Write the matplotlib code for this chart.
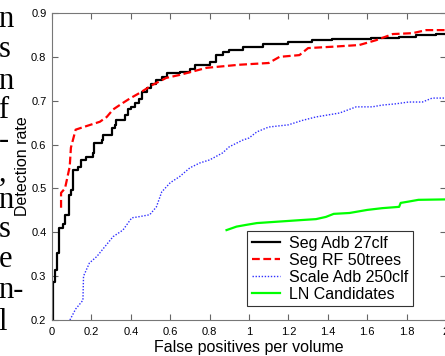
import matplotlib
matplotlib.use("Agg")
import matplotlib.pyplot as plt

# ---- data ----
seg_adb_x = [0.0, 0.005, 0.015, 0.025, 0.035, 0.055, 0.066, 0.086, 0.096, 0.106, 0.13, 0.147,
             0.172, 0.208, 0.213, 0.253, 0.258, 0.304, 0.319, 0.324, 0.37, 0.385, 0.40, 0.42,
             0.44, 0.455, 0.48, 0.50, 0.53, 0.56, 0.585, 0.65, 0.70, 0.725, 0.80, 0.835, 0.87,
             0.90, 0.97, 1.07, 1.20, 1.32, 1.42, 1.62, 1.76, 1.85, 1.95, 2.0]
seg_adb_y = [0.15, 0.287, 0.315, 0.353, 0.41, 0.42, 0.44, 0.485, 0.497, 0.542, 0.55, 0.565,
             0.572, 0.58, 0.604, 0.61, 0.622, 0.638, 0.645, 0.656, 0.668, 0.68, 0.686, 0.695,
             0.705, 0.72, 0.73, 0.738, 0.747, 0.754, 0.763, 0.766, 0.772, 0.782, 0.788, 0.804, 0.81,
             0.816, 0.823, 0.829, 0.833, 0.838, 0.841, 0.843, 0.845, 0.85, 0.852, 0.852]

seg_rf_x = [0.046, 0.046, 0.066, 0.09, 0.096, 0.12, 0.16, 0.243, 0.278, 0.31, 0.36, 0.395,
            0.446, 0.51, 0.58, 0.65, 0.785, 0.95, 1.10, 1.155, 1.256, 1.30, 1.42, 1.56, 1.645,
            1.73, 1.83, 1.90, 2.0]
seg_rf_y = [0.456, 0.49, 0.50, 0.55, 0.593, 0.634, 0.64, 0.652, 0.663, 0.68, 0.695, 0.705,
            0.718, 0.736, 0.752, 0.759, 0.775, 0.782, 0.786, 0.80, 0.804, 0.82, 0.823, 0.827, 0.838,
            0.852, 0.854, 0.861, 0.861]

scale_adb_x = [0.091, 0.12, 0.157, 0.16, 0.19, 0.228, 0.268, 0.31, 0.36, 0.405, 0.435, 0.496,
               0.53, 0.557, 0.60, 0.648, 0.70, 0.75, 0.80, 0.866, 0.90, 0.967, 1.0, 1.04, 1.10,
               1.20, 1.27, 1.34, 1.46, 1.544, 1.625, 1.676, 1.747, 1.81, 1.88, 1.93, 2.0]
scale_adb_y = [0.20, 0.225, 0.245, 0.30, 0.33, 0.345, 0.367, 0.39, 0.405, 0.433, 0.435, 0.44,
               0.458, 0.492, 0.513, 0.527, 0.547, 0.558, 0.565, 0.581, 0.595, 0.61, 0.615, 0.629, 0.64,
               0.645, 0.655, 0.663, 0.672, 0.686, 0.686, 0.69, 0.693, 0.697, 0.697, 0.706, 0.706]

ln_x = [0.886, 0.937, 0.987, 1.04, 1.27, 1.34, 1.39, 1.43, 1.51, 1.60, 1.676, 1.762, 1.77,
        1.81, 1.86, 2.0]
ln_y = [0.405, 0.413, 0.417, 0.421, 0.428, 0.43, 0.435, 0.442, 0.444, 0.451, 0.455, 0.458, 0.467,
        0.47, 0.474, 0.475]

labels = ["Seg Adb 27clf", "Seg RF 50trees", "Scale Adb 250clf", "LN Candidates"]
xticks = [0, 0.2, 0.4, 0.6, 0.8, 1, 1.2, 1.4, 1.6, 1.8, 2]
xticklabels = ["0", "0.2", "0.4", "0.6", "0.8", "1", "1.2", "1.4", "1.6", "1.8", "2"]
yticks = [0.2, 0.3, 0.4, 0.5, 0.6, 0.7, 0.8, 0.9]
yticklabels = ["0.2", "0.3", "0.4", "0.5", "0.6", "0.7", "0.8", "0.9"]

# page text fragments at the left margin
margin_chars = ["n", "s", "n", "f", "-", ",", "n", "s", "e", "n-", "l"]

plt.rcParams['font.family'] = ['Liberation Sans', 'DejaVu Sans']

W, H = 445, 356
fig = plt.figure(figsize=(W / 100, H / 100), dpi=100)
ax = fig.add_axes([52 / W, 36 / H, 394 / W, 307 / H])

ax.plot(seg_adb_x, seg_adb_y, color='black', lw=1.6, drawstyle='steps-post', label=labels[0])
ax.plot(seg_rf_x, seg_rf_y, color='#ff0000', lw=1.6, ls=(0, (3.5, 1.6)), label=labels[1])
ax.plot(scale_adb_x, scale_adb_y, color='#3030ff', lw=1.0, ls=(0, (1, 1.2)), label=labels[2])
ax.plot(ln_x, ln_y, color='#00ff00', lw=1.6, label=labels[3])

ax.set_xlim(0, 2)
ax.set_ylim(0.2, 0.9)
ax.set_xticks(xticks)
ax.set_xticklabels(xticklabels)
ax.set_yticks(yticks)
ax.set_yticklabels(yticklabels)
ax.tick_params(direction='in', length=4, width=0.8, color='#666666', labelsize=8,
               top=True, right=True, pad=4)
ax.tick_params(axis='x', pad=5)
for s in ax.spines.values():
    s.set_color('#777777')
    s.set_linewidth(0.8)

ax.set_xlabel("False positives per volume", fontsize=11.5, labelpad=2)
ax.set_ylabel("Detection rate", fontsize=11.5, labelpad=1)

leg = ax.legend(loc='upper left', bbox_to_anchor=((247 - 52) / 394, (320 - 231) / 307),
                borderaxespad=0, fontsize=11.5, fancybox=False, framealpha=1,
                edgecolor='#333333', handlelength=1.75, handletextpad=0.55,
                labelspacing=0.12, borderpad=0.3)
leg.get_frame().set_linewidth(0.8)

baselines = [27, 57, 89, 118, 148, 181, 208, 237, 267, 298, 330]
for ch, yb in zip(margin_chars, baselines):
    fig.text(-1.5 / W, 1 - yb / H, ch, fontsize=22, family='Liberation Serif',
             ha='left', va='baseline')

fig.savefig("out.png", dpi=100)
